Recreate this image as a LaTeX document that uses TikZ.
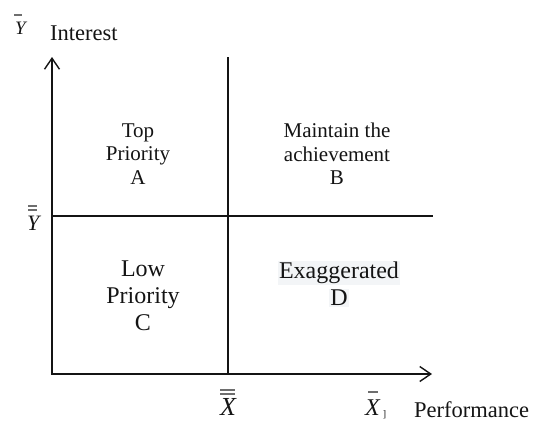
\documentclass[tikz,border=0pt]{standalone}
\usepackage{fontspec}
\setmainfont{Liberation Serif}
\usepackage{xcolor}
\usetikzlibrary{arrows.meta, positioning}
\definecolor{inkblack}{HTML}{141414}
\definecolor{bargray}{HTML}{6E6E6E}
\definecolor{hlgray}{HTML}{F3F5F7}
\newcommand{\hlbox}[1]{{\setlength{\fboxsep}{1.5pt}\colorbox{hlgray}{#1}}}
\tikzset{
  % Axes and quadrant lines
  axis/.style={{Straight Barb[length=11pt, width=15pt]}-{Straight Barb[length=11pt, width=15pt]},
    line width=1.4pt, color=inkblack},
  divider/.style={line width=1.4pt, color=inkblack},
  % Quadrant texts
  quadsmall/.style={align=center, text=inkblack, inner sep=0pt,
    font=\fontsize{21}{23.5}\selectfont},
  quadbig/.style={align=center, text=inkblack, inner sep=0pt,
    font=\fontsize{24}{27}\selectfont},
  % Axis texts
  axislabel/.style={text=inkblack, inner sep=0pt, font=\fontsize{22.5}{26}\selectfont},
  meansym/.style={text=inkblack, inner sep=0pt, anchor=north west,
    font=\fontsize{#1}{#1}\selectfont\itshape},
  meansym/.default=22,
  meanbar/.style={line width=1.2pt, color=bargray},
}

\begin{document}
\begin{tikzpicture}[x=1pt, y=-1pt]

  \useasboundingbox (0,0) rectangle (536,421);

  % Frame points
  \coordinate (ytip) at (52,57);
  \coordinate (origin) at (52,374);
  \coordinate (xtip) at (432,374);
  \coordinate (midtop) at (228,57);
  \coordinate (midbot) at (228,374);
  \coordinate (midleft) at (52,216);
  \coordinate (midright) at (433,216);

  % Axes and dividers
  \draw[axis] (ytip) -- (origin) -- (xtip);
  \draw[divider] (midtop) -- (midbot);
  \draw[divider] (midleft) -- (midright);

  % Quadrants
  \node[quadsmall] (quadA) at (138,154) {Top\\Priority\\A};
  \node[quadsmall] (quadB) at (337,154) {Maintain the\\achievement\\B};
  \node[quadbig] (quadC) at (143,296) {Low\\Priority\\C};
  \node[quadbig] (quadD) at (339,284) {\hlbox{Exaggerated}\\\hlbox{D}};

  % Axis labels
  \node[meansym=19] (ybar) at (15,22) {Y};
  \node[axislabel, anchor=base west] (interest) at (50,40) {Interest};
  \node[meansym=22] (yybar) at (27,216) {Y};
  \node[meansym=26] (xxbar) at (220,398) {X};
  \node[meansym=24] (xbar) at (365,400)
    {X\hspace{3pt}\raisebox{-2pt}{\fontsize{10}{10}\selectfont\upshape ]}};
  \node[axislabel, anchor=base west] (performance) at (414,417) {Performance};

  % Mean bars
  \draw[meanbar] ([xshift=-1pt, yshift=7pt]ybar.north west) -- ++(8,0);
  \draw[meanbar] ([xshift=1pt, yshift=10pt]yybar.north west) -- ++(9,0);
  \draw[meanbar] ([xshift=1pt, yshift=6pt]yybar.north west) -- ++(9,0);
  \draw[meanbar] ([xshift=0pt, yshift=8pt]xxbar.north west) -- ++(15,0);
  \draw[meanbar] ([xshift=0pt, yshift=4pt]xxbar.north west) -- ++(15,0);
  \draw[meanbar] ([xshift=3pt, yshift=8pt]xbar.north west) -- ++(10,0);

\end{tikzpicture}
\end{document}
